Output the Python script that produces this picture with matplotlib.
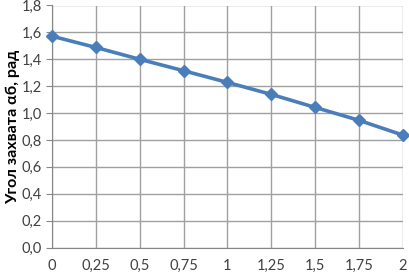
import matplotlib.pyplot as plt

x = [0, 0.25, 0.5, 0.75, 1, 1.25, 1.5, 1.75, 2]
ugol = [1.572, 1.488, 1.40, 1.315, 1.228, 1.139, 1.042, 0.946, 0.836]
x_labels = ["0", "0,25", "0,5", "0,75", "1", "1,25", "1,5", "1,75", "2"]
y_ticks = [0, 0.2, 0.4, 0.6, 0.8, 1.0, 1.2, 1.4, 1.6, 1.8]
y_labels = ["0,0", "0,2", "0,4", "0,6", "0,8", "1,0", "1,2", "1,4", "1,6", "1,8"]

plt.rcParams['font.family'] = ['Lato', 'DejaVu Sans']
fig = plt.figure(figsize=(4.09, 2.75), dpi=100)
ax = fig.add_axes([0.127, 0.10, 0.858, 0.88])

ax.plot(x, ugol, color="#4a7ebb", linewidth=2.6, marker="D", markersize=6.5, clip_on=False, zorder=3)

ax.set_xlim(0, 2)
ax.set_ylim(0, 1.8)
ax.set_xticks(x)
ax.set_xticklabels(x_labels)
ax.set_yticks(y_ticks)
ax.set_yticklabels(y_labels)
ax.grid(True, color="#a0a0a0", linewidth=1)
ax.set_axisbelow(True)
for s in ["top", "right"]:
    ax.spines[s].set_visible(False)
for s in ["left", "bottom"]:
    ax.spines[s].set_color("#868686")
ax.tick_params(axis="both", colors="#868686", labelcolor="#404040", labelsize=10.5, length=4)
ax.tick_params(axis="x", length=0, pad=8)
ax.set_ylabel("Угол захвата αб, рад", fontsize=11.5, fontweight="bold", labelpad=1)

fig.savefig("out.png", dpi=100)
